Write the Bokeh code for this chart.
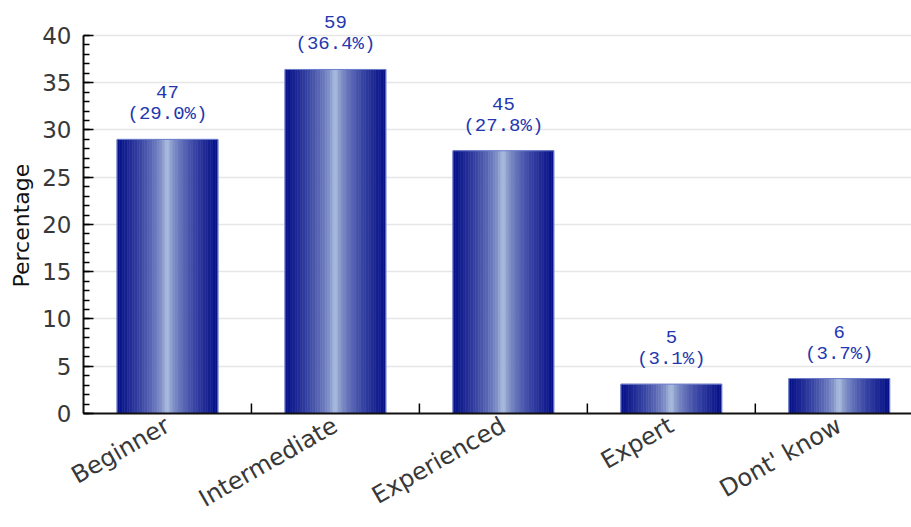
from bokeh.plotting import figure
from bokeh.models import Range1d, FixedTicker, SingleIntervalTicker, ColumnDataSource, Title
from bokeh.core.properties import value
from bokeh.embed import file_html
from bokeh.resources import INLINE

categories = ["Beginner", "Intermediate", "Experienced", "Expert", "Dont' know"]
counts = [47, 59, 45, 5, 6]
percentages = [29.0, 36.4, 27.8, 3.1, 3.7]
y_ticks = [0, 5, 10, 15, 20, 25, 30, 35, 40]
y_label = "Percentage"

p = figure(width=911, height=527, output_backend="svg", toolbar_location=None,
           x_range=Range1d(-0.5, 4.43), y_range=Range1d(0, 43.17))
p.min_border_left = 83
p.min_border_right = 0
p.min_border_top = 5
p.min_border_bottom = 114
p.outline_line_color = None
p.background_fill_color = "white"
p.border_fill_color = "white"

# gradient bars built from thin stripes
N = 40
bw = 0.6
dark = (4, 14, 136)
light = (188, 206, 230)
L, R, T, B, C = [], [], [], [], []
for i, v in enumerate(percentages):
    for k in range(N):
        t = abs((k + 0.5) / N * 2 - 1)
        f = t ** 0.55
        col = tuple(int(round(light[j] * (1 - f) + dark[j] * f)) for j in range(3))
        left = i - bw / 2 + k * bw / N
        L.append(left)
        R.append(left + bw / N)
        T.append(v)
        B.append(0)
        C.append("#%02x%02x%02x" % col)
src = ColumnDataSource(dict(left=L, right=R, top=T, bottom=B, color=C))
p.quad(left="left", right="right", top="top", bottom="bottom", fill_color="color",
       line_color="color", line_width=0.6, source=src)

xs = list(range(len(categories)))
p.quad(left=[x - bw / 2 for x in xs], right=[x + bw / 2 for x in xs], top=percentages,
       bottom=[0] * len(xs), fill_color=None, line_color="#6d7fcc", line_width=1)

# value labels
lab = ColumnDataSource(dict(x=xs, y=percentages, c=[str(c) for c in counts],
                            pc=["(%.1f%%)" % v for v in percentages]))
for col, off in (("c", -47), ("pc", -25)):
    p.text(x="x", y="y", text=col, source=lab, y_offset=off, text_align="center",
           text_baseline="middle", text_font=value("Liberation Mono"),
           text_font_size="19px", text_color="#2437b0")

# category separator ticks
seps = [x + 0.5 for x in xs[:-1]]
p.segment(x0=seps, x1=seps, y0=[0] * len(seps), y1=[1.05] * len(seps),
          line_color="black", line_width=1.5)

# y axis
p.yaxis.bounds = (0, 40)
p.yaxis.ticker = SingleIntervalTicker(interval=5, num_minor_ticks=5)
p.yaxis.major_tick_in = 10
p.yaxis.major_tick_out = 0
p.yaxis.minor_tick_in = 6
p.yaxis.minor_tick_out = 0
p.yaxis.major_tick_line_color = "black"
p.yaxis.minor_tick_line_color = "black"
p.yaxis.major_tick_line_width = 1.5
p.yaxis.minor_tick_line_width = 1.5
p.yaxis.axis_line_width = 2
p.yaxis.axis_line_color = "#111111"
p.yaxis.major_label_text_font = "DejaVu Sans"
p.yaxis.major_label_text_font_size = "23px"
p.yaxis.major_label_text_color = "#383838"
p.yaxis.major_label_standoff = 12

# y-axis title as a side title, so it can sit centred on the 0-40 span
p.add_layout(Title(text=y_label, align="left", offset=126, standoff=11,
                   text_font="DejaVu Sans", text_font_size="22px",
                   text_font_style="normal", text_color="#111111"), "left")

p.ygrid.ticker = FixedTicker(ticks=y_ticks)
p.ygrid.grid_line_color = "#e6e6e6"
p.ygrid.grid_line_width = 1.5
p.xgrid.grid_line_color = None

# x axis
p.xaxis.ticker = FixedTicker(ticks=xs)
p.xaxis.major_label_overrides = {i: c for i, c in enumerate(categories)}
p.xaxis.major_tick_line_color = None
p.xaxis.minor_tick_line_color = None
p.xaxis.axis_line_width = 2
p.xaxis.axis_line_color = "#111111"
p.xaxis.major_label_orientation = 0.52
p.xaxis.major_label_text_font = "DejaVu Sans"
p.xaxis.major_label_text_font_size = "24px"
p.xaxis.major_label_text_color = "#383838"
p.xaxis.major_label_standoff = 4

open("out.html", "w").write(file_html(p, INLINE))
